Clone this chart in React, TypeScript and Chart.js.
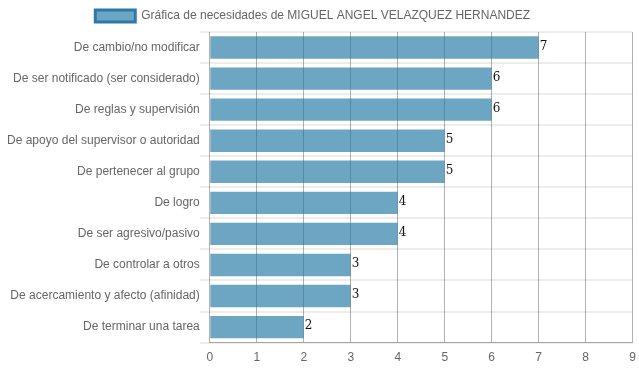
import React, { useEffect, useRef } from "react";
import { Chart, registerables } from "chart.js";

Chart.register(...registerables);

const categories = [
  "De cambio/no modificar",
  "De ser notificado (ser considerado)",
  "De reglas y supervisión",
  "De apoyo del supervisor o autoridad",
  "De pertenecer al grupo",
  "De logro",
  "De ser agresivo/pasivo",
  "De controlar a otros",
  "De acercamiento y afecto (afinidad)",
  "De terminar una tarea",
];
const values = [7, 6, 6, 5, 5, 4, 4, 3, 3, 2];
const seriesLabel = "Gráfica de necesidades de MIGUEL ANGEL VELAZQUEZ HERNANDEZ";

const FONT = "'Liberation Sans', Arial, sans-serif";

const valueLabels = {
  id: "valueLabels",
  afterDatasetsDraw(chart: any) {
    const ctx = chart.ctx;
    const meta = chart.getDatasetMeta(0);
    ctx.save();
    ctx.font = "12px 'DejaVu Serif', serif";
    ctx.fillStyle = "#111";
    ctx.textAlign = "left";
    ctx.textBaseline = "alphabetic";
    meta.data.forEach((bar: any, i: number) => {
      ctx.fillText(String(values[i]), bar.x + 1, bar.y + 2);
    });
    ctx.restore();
  },
};

export default function App() {
  const ref = useRef<HTMLCanvasElement>(null);
  useEffect(() => {
    document.body.style.margin = "0";
    const chart = new Chart(ref.current!, {
      type: "bar",
      data: {
        labels: categories,
        datasets: [
          {
            label: seriesLabel,
            data: values,
            backgroundColor: "rgba(31,119,163,0.65)",
            borderColor: "rgb(46,122,166)",
            borderWidth: 0,
          },
        ],
      },
      options: {
        indexAxis: "y",
        animation: false,
        responsive: false,
        maintainAspectRatio: false,
        layout: { padding: { left: 7, right: 4, top: 0, bottom: 4 } },
        plugins: {
          legend: {
            labels: {
              color: "#666",
              font: { family: FONT, size: 12 },
              boxWidth: 40,
              boxHeight: 12,
              generateLabels: () => [
                {
                  text: seriesLabel + "\u00a0\u00a0\u00a0\u00a0\u00a0",
                  fillStyle: "rgba(31,119,163,0.65)",
                  strokeStyle: "rgb(46,122,166)",
                  lineWidth: 3,
                  datasetIndex: 0,
                  fontColor: "#666",
                },
              ],
            },
          },
          tooltip: { enabled: false },
        },
        scales: {
          x: {
            min: 0,
            max: 9,
            ticks: { stepSize: 1, color: "#666", font: { family: FONT, size: 12 }, padding: 3 },
            grid: { color: "rgba(0,0,0,0.3)", drawTicks: true, tickLength: 5, tickColor: "rgba(0,0,0,0)" },
            border: { color: "rgba(0,0,0,0.3)" },
          },
          y: {
            ticks: { color: "#666", font: { family: FONT, size: 12 }, padding: 0 },
            grid: { color: "rgba(0,0,0,0.07)", lineWidth: 2, offset: true, tickLength: 10 },
            border: { display: false },
          },
        },
      },
      plugins: [valueLabels],
    });
    return () => chart.destroy();
  }, []);
  return <canvas ref={ref} width={639} height={372} style={{ display: "block" }} />;
}
